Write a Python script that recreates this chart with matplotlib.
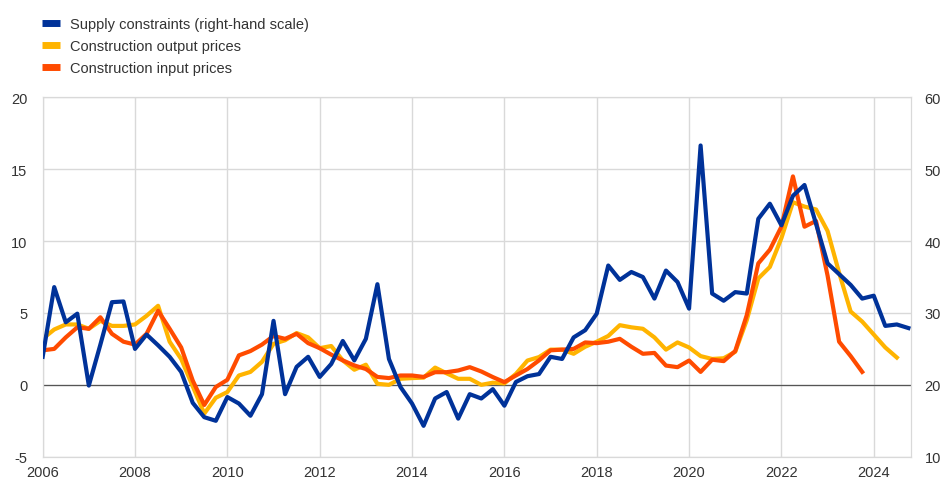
import matplotlib
matplotlib.use("Agg")
import matplotlib.pyplot as plt
from matplotlib.lines import Line2D
import numpy as np

# quarterly data, 2006Q1 onwards
supply = [23.9, 33.6, 28.7, 29.9, 19.9, 25.6, 31.5, 31.6, 25.0, 27.0, 25.5, 23.9,
          21.8, 17.5, 15.5, 15.0, 18.3, 17.4, 15.7, 18.7, 28.9, 18.7, 22.5, 23.9,
          21.1, 22.9, 26.1, 23.4, 26.4, 34.0, 23.6, 19.7, 17.4, 14.3, 18.1, 19.0,
          15.3, 18.7, 18.1, 19.4, 17.1, 20.4, 21.2, 21.5, 23.9, 23.6, 26.6, 27.6,
          29.9, 36.6, 34.6, 35.7, 35.0, 32.0, 35.9, 34.3, 30.6, 53.3, 32.7, 31.7,
          32.9, 32.7, 43.1, 45.2, 42.2, 46.3, 47.8, 42.4, 36.9, 35.4, 33.9, 32.0,
          32.4, 28.2, 28.4, 27.9]
output_prices = [3.2, 3.85, 4.2, 4.2, 3.9, 4.45, 4.1, 4.1, 4.2, 4.8, 5.5, 3.0,
                 1.8, -0.1, -2.0, -0.9, -0.5, 0.65, 0.9, 1.6, 2.85, 3.1, 3.6, 3.3,
                 2.55, 2.7, 1.7, 1.05, 1.4, 0.07, 0.0, 0.42, 0.47, 0.5, 1.2, 0.8,
                 0.42, 0.42, 0.0, 0.15, 0.1, 0.76, 1.69, 1.93, 2.45, 2.45, 2.16, 2.65,
                 3.0, 3.4, 4.15, 4.0, 3.9, 3.3, 2.45, 2.95, 2.6, 2.0, 1.8, 1.85,
                 2.3, 4.5, 7.4, 8.2, 10.2, 12.7, 12.4, 12.2, 10.7, 7.8, 5.1, 4.4,
                 3.5, 2.6, 1.9]
input_prices = [2.4, 2.5, 3.3, 4.0, 3.9, 4.7, 3.55, 3.0, 2.8, 3.55, 5.15, 3.9,
                2.6, 0.3, -1.4, -0.15, 0.35, 2.05, 2.35, 2.8, 3.4, 3.2, 3.55, 2.9,
                2.55, 2.1, 1.7, 1.35, 1.1, 0.55, 0.47, 0.65, 0.65, 0.55, 0.88, 0.88,
                1.0, 1.23, 0.93, 0.54, 0.19, 0.65, 1.1, 1.7, 2.4, 2.45, 2.5, 2.95,
                2.9, 3.0, 3.2, 2.65, 2.16, 2.22, 1.34, 1.23, 1.69, 0.9, 1.75, 1.65,
                2.35, 4.85, 8.45, 9.4, 11.0, 14.5, 11.0, 11.4, 7.6, 3.0, 2.0, 0.9]

labels = ["Supply constraints (right-hand scale)", "Construction output prices",
          "Construction input prices"]
x_ticks = list(range(2006, 2025, 2))
left_ticks = [-5, 0, 5, 10, 15, 20]
right_ticks = [10, 20, 30, 40, 50, 60]

blue = "#003299"
yellow = "#FFB400"
red = "#FF4B00"
grid_c = "#d9d9d9"
txt = "#333333"

t_sup = 2006 + np.arange(len(supply)) / 4
t_out = 2006 + np.arange(len(output_prices)) / 4
t_in = 2006 + np.arange(len(input_prices)) / 4

plt.rcParams['font.family'] = ['Arial', 'Liberation Sans', 'DejaVu Sans']
plt.rcParams['axes.unicode_minus'] = False

fig = plt.figure(figsize=(9.44, 4.81), dpi=100)
ax = fig.add_axes([0.0452, 0.0484, 0.9195, 0.7472])

ax.plot(t_out, output_prices, color=yellow, lw=3, zorder=3)
ax.plot(t_in, input_prices, color=red, lw=3, zorder=4)
ax.axhline(0, color="#555555", lw=0.9, zorder=2)

ax.set_xlim(2006, 2024.8)
ax.set_ylim(-5, 20)
ax.set_xticks(x_ticks)
ax.set_yticks(left_ticks)
ax.grid(True, color=grid_c, lw=1)
ax.tick_params(length=0, labelsize=10.5, colors=txt, pad=6)
ax.tick_params(axis='y', pad=11)
for s in ax.spines.values():
    s.set_color(grid_c)

ax2 = ax.twinx()
ax2.plot(t_sup, supply, color=blue, lw=3, zorder=5)
ax2.set_ylim(10, 60)
ax2.set_yticks(right_ticks)
ax2.tick_params(length=0, labelsize=10.5, colors=txt, pad=10)
for s in ax2.spines.values():
    s.set_color(grid_c)

handles = [Line2D([], [], color=c, lw=5, solid_capstyle='butt') for c in (blue, yellow, red)]
fig.legend(handles, labels, loc='upper left', bbox_to_anchor=(0.031, 0.99),
           frameon=False, fontsize=10.5, handlelength=1.2, handletextpad=0.7,
           labelspacing=0.55, labelcolor=txt)

fig.savefig("out.png", dpi=100)
